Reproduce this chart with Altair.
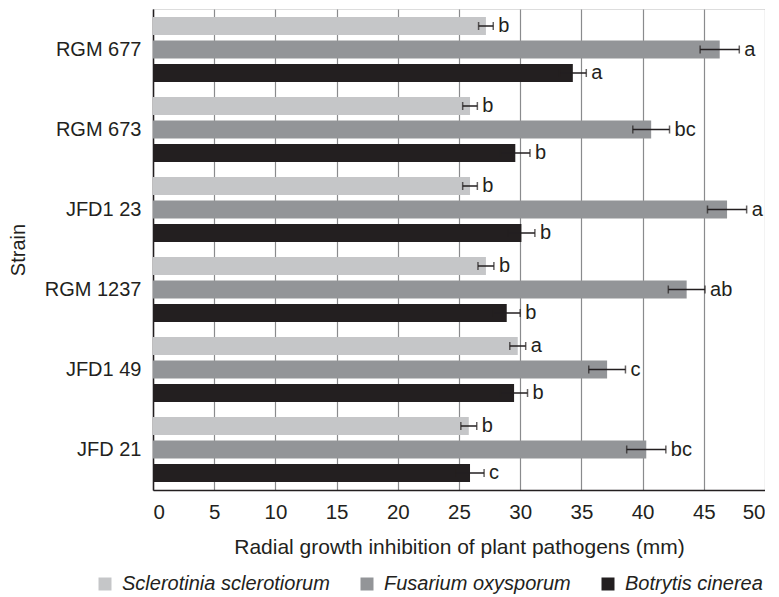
import altair as alt
import pandas as pd

strains = ["RGM 677", "RGM 673", "JFD1 23", "RGM 1237", "JFD1 49", "JFD 21"]
pathogens = ["Sclerotinia sclerotiorum", "Fusarium oxysporum", "Botrytis cinerea"]

sclerotinia = [27.2, 25.9, 25.9, 27.2, 29.8, 25.8]
fusarium = [46.3, 40.7, 46.9, 43.6, 37.1, 40.3]
botrytis = [34.3, 29.6, 30.1, 28.9, 29.5, 25.9]

sclerotinia_err = [0.6, 0.6, 0.6, 0.65, 0.65, 0.65]
fusarium_err = [1.6, 1.5, 1.6, 1.5, 1.5, 1.6]
botrytis_err = [1.1, 1.2, 1.1, 1.1, 1.1, 1.15]

sclerotinia_letters = ["b", "b", "b", "b", "a", "b"]
fusarium_letters = ["a", "bc", "a", "ab", "c", "bc"]
botrytis_letters = ["a", "b", "b", "b", "b", "c"]

colors = ["#c5c6c8", "#939598", "#231f20"]

rows = []
for name, vals, errs, lets in [
    (pathogens[0], sclerotinia, sclerotinia_err, sclerotinia_letters),
    (pathogens[1], fusarium, fusarium_err, fusarium_letters),
    (pathogens[2], botrytis, botrytis_err, botrytis_letters),
]:
    for s, v, e, l in zip(strains, vals, errs, lets):
        rows.append({"Strain": s, "Pathogen": name, "value": v,
                     "lo": v - e, "hi": v + e, "letter": l})
df = pd.DataFrame(rows)

FONT = "Liberation Sans"
FS = 20
TXT = "#231f20"

y = alt.Y("Strain:N", sort=strains, title="Strain",
          scale=alt.Scale(paddingInner=0.1875, paddingOuter=0.1),
          axis=alt.Axis(labelFontSize=FS, titleFontSize=FS, labelFont=FONT,
                        titleFont=FONT, labelColor=TXT, titleColor=TXT,
                        titleFontWeight="normal", ticks=False, labelPadding=12,
                        titlePadding=16, domainColor=TXT, domainWidth=1.5))
yoff = alt.YOffset("Pathogen:N", sort=pathogens,
                   scale=alt.Scale(paddingInner=0.234, paddingOuter=0))

bars = alt.Chart(df).mark_bar().encode(
    x=alt.X("value:Q", title="Radial growth inhibition of plant pathogens (mm)",
            scale=alt.Scale(domain=[0, 50], nice=False),
            axis=alt.Axis(values=list(range(0, 51, 5)), labelFontSize=20.5,
                          titleFontSize=21, labelFont=FONT, titleFont=FONT,
                          labelColor=TXT, titleColor=TXT,
                          titleFontWeight="normal", ticks=False, labelPadding=12,
                          titlePadding=14, grid=True, gridColor="#8a8b8d",
                          gridWidth=1.2, domainColor=TXT, domainWidth=1.5)),
    y=y,
    yOffset=yoff,
    color=alt.Color("Pathogen:N", sort=pathogens,
                    scale=alt.Scale(domain=pathogens, range=colors),
                    legend=alt.Legend(title=None, orient="none", direction="horizontal",
                                      legendX=-58, legendY=565,
                                      symbolType="square", symbolSize=169,
                                      symbolStrokeWidth=0, labelFontSize=20,
                                      labelFont=FONT, labelFontStyle="italic",
                                      labelColor=TXT, columnPadding=27,
                                      labelOffset=7, labelLimit=0)),
)

rule = alt.Chart(df).mark_rule(color=TXT, strokeWidth=1.5).encode(
    x="lo:Q", x2="hi:Q", y=alt.Y("Strain:N", sort=strains), yOffset=yoff)

caps_lo = alt.Chart(df).mark_tick(color=TXT, thickness=1.5, size=8).encode(
    x="lo:Q", y=alt.Y("Strain:N", sort=strains), yOffset=yoff)
caps_hi = alt.Chart(df).mark_tick(color=TXT, thickness=1.5, size=8).encode(
    x="hi:Q", y=alt.Y("Strain:N", sort=strains), yOffset=yoff)

labels = alt.Chart(df).mark_text(align="left", baseline="middle", dx=5, fontSize=FS,
                                 font=FONT, color=TXT).encode(
    x="hi:Q", y=alt.Y("Strain:N", sort=strains), yOffset=yoff, text="letter:N")

chart = alt.layer(bars, rule, caps_lo, caps_hi, labels).properties(
    width=612, height=481,
    padding={"left": 0, "top": 1, "right": 0, "bottom": 2},
).configure_view(stroke=None).configure(background="white")

chart.save("out.html", embed_options={"renderer": "svg", "actions": False})
